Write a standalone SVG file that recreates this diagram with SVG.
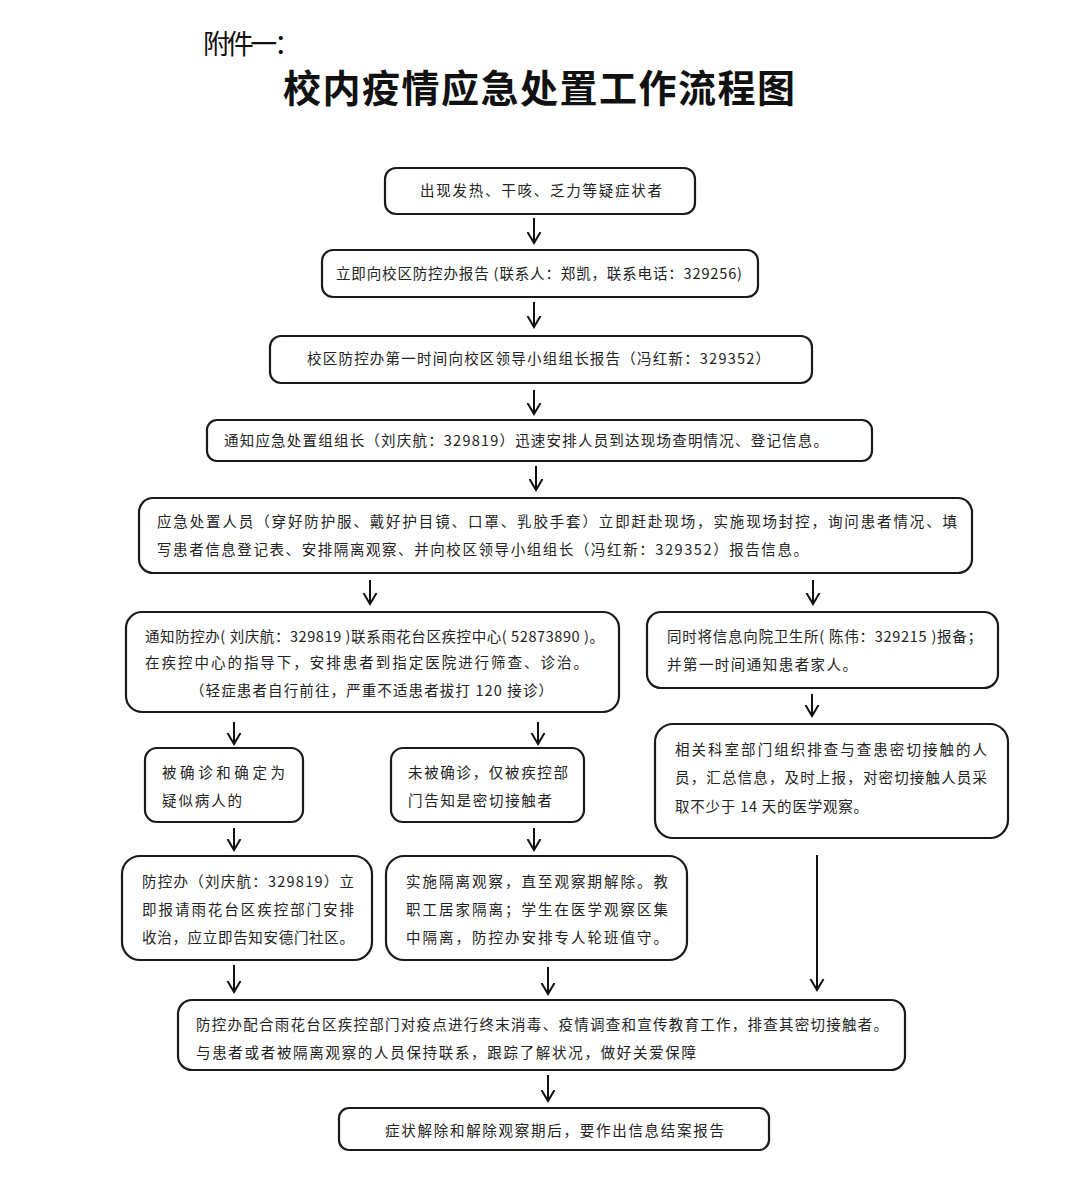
<svg xmlns="http://www.w3.org/2000/svg" width="1075" height="1181" viewBox="0 0 1075 1181">
<defs>
<style>
.box{fill:#fff;stroke:#1a1a1a;stroke-width:2.2}
.t{font-family:"Noto Sans CJK SC","Liberation Serif",sans-serif;font-size:14.5px;fill:#222}
.c{stroke:#111;stroke-width:2;fill:none;marker-end:url(#ah)}
</style>
<marker id="ah" viewBox="0 -8 13 16" refX="11" refY="0" markerWidth="13" markerHeight="16" markerUnits="userSpaceOnUse" orient="auto">
<path d="M0,-6.5 L11,0 L0,6.5" fill="none" stroke="#111" stroke-width="2"/>
</marker>
</defs>
<rect width="1075" height="1181" fill="#fff"/>
<text x="203" y="54" font-family="Noto Sans CJK SC, sans-serif" font-size="27" fill="#111" textLength="98" lengthAdjust="spacing">附件一：</text>
<text x="283" y="102" font-family="Noto Sans CJK SC, sans-serif" font-size="38" font-weight="bold" fill="#111" textLength="512" lengthAdjust="spacing">校内疫情应急处置工作流程图</text>

<g id="connectors">
<line class="c" x1="534" y1="218" x2="534" y2="243"/>
<line class="c" x1="534" y1="302" x2="534" y2="327"/>
<line class="c" x1="534" y1="390" x2="534" y2="414"/>
<line class="c" x1="536" y1="466" x2="536" y2="490"/>
<line class="c" x1="370" y1="580" x2="370" y2="604"/>
<line class="c" x1="813" y1="580" x2="813" y2="604"/>
<line class="c" x1="812" y1="694" x2="812" y2="716"/>
<line class="c" x1="234" y1="722" x2="234" y2="744"/>
<line class="c" x1="538" y1="722" x2="538" y2="744"/>
<line class="c" x1="234" y1="828" x2="234" y2="850"/>
<line class="c" x1="534" y1="828" x2="534" y2="850"/>
<line class="c" x1="817" y1="855" x2="817" y2="990"/>
<line class="c" x1="234" y1="965" x2="234" y2="992"/>
<line class="c" x1="548" y1="967" x2="548" y2="994"/>
<line class="c" x1="548" y1="1075" x2="548" y2="1101"/>
</g>

<g id="n1">
<rect class="box" x="385" y="168" width="310" height="46" rx="11"/>
<text class="t" x="420" y="196" textLength="242" lengthAdjust="spacing">出现发热、干咳、乏力等疑症状者</text>
</g>
<g id="n2">
<rect class="box" x="322" y="250" width="436" height="47" rx="11"/>
<text class="t" x="336" y="279" textLength="406" lengthAdjust="spacing">立即向校区防控办报告 (联系人：郑凯，联系电话：329256)</text>
</g>
<g id="n3">
<rect class="box" x="270" y="336" width="542" height="47" rx="11"/>
<text class="t" x="307" y="364" textLength="463" lengthAdjust="spacing">校区防控办第一时间向校区领导小组组长报告（冯红新：329352）</text>
</g>
<g id="n4">
<rect class="box" x="207" y="420" width="665" height="41" rx="10"/>
<text class="t" x="224" y="446" textLength="604" lengthAdjust="spacing">通知应急处置组组长（刘庆航：329819）迅速安排人员到达现场查明情况、登记信息。</text>
</g>
<g id="n5">
<rect class="box" x="139" y="498" width="833" height="75" rx="14"/>
<text class="t" x="157" y="527" textLength="800" lengthAdjust="spacing">应急处置人员（穿好防护服、戴好护目镜、口罩、乳胶手套）立即赶赴现场，实施现场封控，询问患者情况、填</text>
<text class="t" x="157" y="555" textLength="651" lengthAdjust="spacing">写患者信息登记表、安排隔离观察、并向校区领导小组组长（冯红新：329352）报告信息。</text>
</g>
<g id="n6">
<rect class="box" x="126" y="612" width="493" height="100" rx="16"/>
<text class="t" x="145" y="642" textLength="459" lengthAdjust="spacing">通知防控办( 刘庆航：329819 )联系雨花台区疾控中心( 52873890 )。</text>
<text class="t" x="145" y="668" textLength="443" lengthAdjust="spacing">在疾控中心的指导下，安排患者到指定医院进行筛查、诊治。</text>
<text class="t" x="190" y="696" textLength="363" lengthAdjust="spacing">（轻症患者自行前往，严重不适患者拔打 120 接诊）</text>
</g>
<g id="n7">
<rect class="box" x="647" y="612" width="351" height="76" rx="14"/>
<text class="t" x="667" y="642" textLength="315" lengthAdjust="spacing">同时将信息向院卫生所( 陈伟：329215 )报备；</text>
<text class="t" x="667" y="670" textLength="190" lengthAdjust="spacing">并第一时间通知患者家人。</text>
</g>
<g id="n8">
<rect class="box" x="655" y="724" width="353" height="114" rx="18"/>
<text class="t" x="675" y="755" textLength="312" lengthAdjust="spacing">相关科室部门组织排查与查患密切接触的人</text>
<text class="t" x="675" y="783" textLength="312" lengthAdjust="spacing">员，汇总信息，及时上报，对密切接触人员采</text>
<text class="t" x="675" y="812" textLength="193" lengthAdjust="spacing">取不少于 14 天的医学观察。</text>
</g>
<g id="n9">
<rect class="box" x="145" y="748" width="158" height="74" rx="12"/>
<text class="t" x="162" y="778" textLength="123" lengthAdjust="spacing">被确诊和确定为</text>
<text class="t" x="162" y="806" textLength="80" lengthAdjust="spacing">疑似病人的</text>
</g>
<g id="n10">
<rect class="box" x="391" y="748" width="193" height="74" rx="12"/>
<text class="t" x="408" y="778" textLength="160" lengthAdjust="spacing">未被确诊，仅被疾控部</text>
<text class="t" x="408" y="806" textLength="144" lengthAdjust="spacing">门告知是密切接触者</text>
</g>
<g id="n11">
<rect class="box" x="122" y="856" width="250" height="104" rx="18"/>
<text class="t" x="142" y="887" textLength="212" lengthAdjust="spacing">防控办（刘庆航：329819）立</text>
<text class="t" x="142" y="915" textLength="212" lengthAdjust="spacing">即报请雨花台区疾控部门安排</text>
<text class="t" x="142" y="943" textLength="212" lengthAdjust="spacing">收治，应立即告知安德门社区。</text>
</g>
<g id="n12">
<rect class="box" x="386" y="856" width="301" height="104" rx="18"/>
<text class="t" x="406" y="887" textLength="262" lengthAdjust="spacing">实施隔离观察，直至观察期解除。教</text>
<text class="t" x="406" y="915" textLength="262" lengthAdjust="spacing">职工居家隔离；学生在医学观察区集</text>
<text class="t" x="406" y="943" textLength="262" lengthAdjust="spacing">中隔离，防控办安排专人轮班值守。</text>
</g>
<g id="n13">
<rect class="box" x="178" y="1000" width="727" height="70" rx="14"/>
<text class="t" x="196" y="1030" textLength="692" lengthAdjust="spacing">防控办配合雨花台区疾控部门对疫点进行终末消毒、疫情调查和宣传教育工作，排查其密切接触者。</text>
<text class="t" x="196" y="1058" textLength="500" lengthAdjust="spacing">与患者或者被隔离观察的人员保持联系，跟踪了解状况，做好关爱保障</text>
</g>
<g id="n14">
<rect class="box" x="339" y="1108" width="430" height="42" rx="10"/>
<text class="t" x="385" y="1136" textLength="339" lengthAdjust="spacing">症状解除和解除观察期后，要作出信息结案报告</text>
</g>
</svg>
